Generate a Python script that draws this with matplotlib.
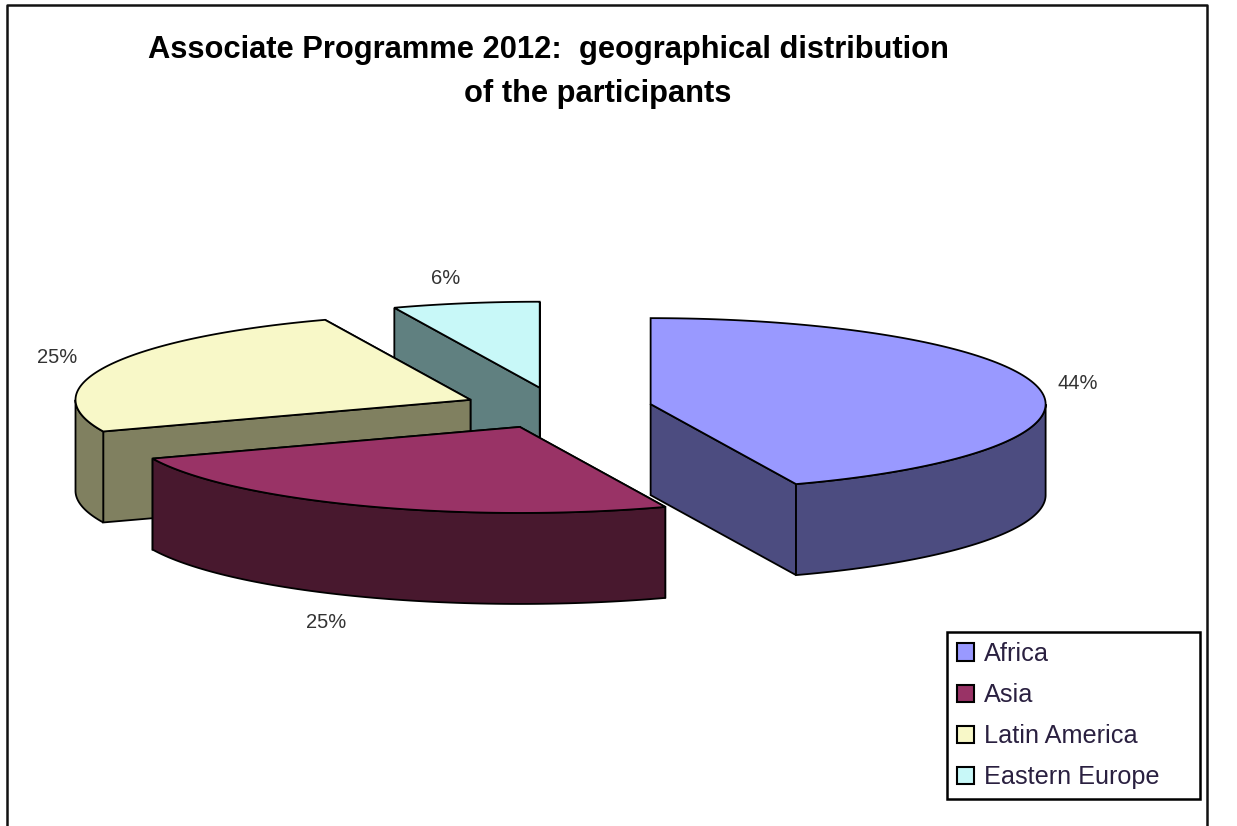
import numpy as np
import matplotlib
matplotlib.use('Agg')
import matplotlib.pyplot as plt
from matplotlib.patches import Polygon, Patch

plt.rcParams['font.family'] = ['Liberation Sans', 'DejaVu Sans']

regions = ['Africa', 'Asia', 'Latin America', 'Eastern Europe']
shares = [44, 25, 25, 6]
top_colors = ['#9999ff', '#993366', '#f8f8c8', '#c8f8f8']
side_colors = ['#4c4c80', '#48182e', '#808060', '#608080']
title_lines = ['Associate Programme 2012:  geographical distribution', 'of the participants']

# pie geometry in picture pixels
CX, CY = 557.5, 408
RX, RY = 395, 86
DEPTH = 91
EXPLODE = 0.24
LABEL_SHIFT = [(0, -3), (-21, 18), (-15, -5), (-13, -16)]


def rim(angles, cx, cy, drop=0):
    # angle is clockwise from 12 o'clock, like excel does it
    return np.column_stack([cx + RX * np.sin(angles), cy - RY * np.cos(angles) + drop])


def draw_slice(ax, a0, a1, color, side):
    mid = (a0 + a1) / 2
    cx = CX + EXPLODE * RX * np.sin(mid)
    cy = CY - EXPLODE * RY * np.cos(mid)

    # cut faces, back one first
    faces = sorted([a0, a1], key=lambda t: -np.cos(t))
    for t in faces:
        p = rim(np.array([t]), cx, cy)[0]
        ax.add_patch(Polygon([(cx, cy), p, (p[0], p[1] + DEPTH), (cx, cy + DEPTH)],
                             fc=side, ec='black', lw=1.3))

    # outer wall, only the part facing the viewer
    lo, hi = max(a0, np.pi / 2), min(a1, 3 * np.pi / 2)
    if hi > lo:
        t = np.linspace(lo, hi, 80)
        ax.add_patch(Polygon(np.vstack([rim(t, cx, cy), rim(t[::-1], cx, cy, DEPTH)]),
                             fc=side, ec='black', lw=1.3))

    t = np.linspace(a0, a1, 120)
    ax.add_patch(Polygon(np.vstack([[(cx, cy)], rim(t, cx, cy)]),
                         fc=color, ec='black', lw=1.3))
    return cx, cy


fig = plt.figure(figsize=(12.37, 8.26), dpi=100)
ax = fig.add_axes([0, 0, 1, 1])
ax.set_xlim(0, 1237)
ax.set_ylim(826, 0)
ax.axis('off')

# chart frame, bottom edge is cut off in the source
ax.plot([7, 7, 1207, 1207], [826, 5, 5, 826], color='#111111', lw=1.8)

edges = 2 * np.pi * np.concatenate([[0], np.cumsum(shares)]) / sum(shares)
centres = {}
for i in [3, 2, 1, 0]:
    centres[i] = draw_slice(ax, edges[i], edges[i + 1], top_colors[i], side_colors[i])

for i, v in enumerate(shares):
    mid = (edges[i] + edges[i + 1]) / 2
    cx, cy = centres[i]
    extra = DEPTH if np.cos(mid) < 0 else 0
    x = cx + 1.1 * RX * np.sin(mid) + LABEL_SHIFT[i][0]
    y = cy - 1.1 * RY * np.cos(mid) + extra + LABEL_SHIFT[i][1]
    ax.text(x, y, f'{v}%', fontsize=14.5, color='#333333', ha='center', va='center')

ax.text(548, 50, title_lines[0], fontsize=22.2, fontweight='bold', ha='center', va='center', color='black')
ax.text(598, 94, title_lines[1], fontsize=22.2, fontweight='bold', ha='center', va='center', color='black')

handles = [Patch(fc=c, ec='black', lw=1.5) for c in top_colors]
leg = ax.legend(handles, regions, loc='lower left', mode='expand',
                bbox_to_anchor=(947 / 1237, 1 - 799 / 826, 253 / 1237, 167 / 826),
                fontsize=18.2, frameon=True, fancybox=False, edgecolor='black', framealpha=1,
                handlelength=0.67, handleheight=0.67, handletextpad=0.4, labelspacing=0.68,
                borderpad=0.38, borderaxespad=0, labelcolor='#2a2040')
leg.get_frame().set_linewidth(1.8)

fig.savefig('out.png', dpi=100)
